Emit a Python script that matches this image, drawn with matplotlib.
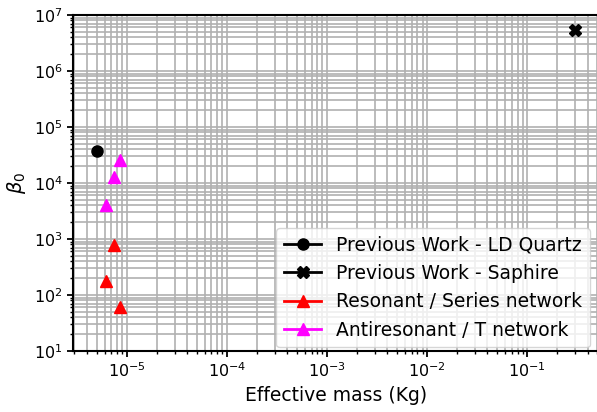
import matplotlib
matplotlib.use("Agg")
import matplotlib.pyplot as plt
from matplotlib.lines import Line2D
from matplotlib.ticker import NullFormatter

# data
quartz_mass = [5.0e-6]
quartz_beta = [3.8e4]
saphire_mass = [0.3]
saphire_beta = [5.3e6]
res_mass = [7.4e-6, 6.2e-6, 8.5e-6]
res_beta = [770, 176, 62]
anti_mass = [8.5e-6, 7.4e-6, 6.2e-6]
anti_beta = [2.6e4, 1.27e4, 4.1e3]

labels = ["Previous Work - LD Quartz", "Previous Work - Saphire",
          "Resonant / Series network", "Antiresonant / T network"]

fig = plt.figure(figsize=(5.97, 4.12), dpi=100)
ax = fig.add_axes([73 / 597, 61 / 412, 526 / 597, 336 / 412])

ax.plot(quartz_mass, quartz_beta, 'o', color='black', ms=8)
ax.plot(saphire_mass, saphire_beta, 'X', color='black', ms=8)
ax.plot(res_mass, res_beta, '^', color='red', ms=8)
ax.plot(anti_mass, anti_beta, '^', color='magenta', ms=8)

ax.set_xscale('log')
ax.set_yscale('log')
ax.set_xlim(2.9e-6, 0.52)
ax.set_ylim(10, 1e7)
ax.grid(True, which='both', color='#b0b0b0', lw=1.2)
ax.set_axisbelow(True)
ax.xaxis.set_minor_formatter(NullFormatter())
ax.yaxis.set_minor_formatter(NullFormatter())

for s in ax.spines.values():
    s.set_linewidth(1.5)
ax.tick_params(which='major', labelsize=11.5, width=1.3, length=4)
ax.tick_params(which='minor', width=1.0, length=2.5)

ax.set_xlabel("Effective mass (Kg)", fontsize=13.5)
ax.set_ylabel(r"$\beta_0$", fontsize=14)

handles = [
    Line2D([], [], color='black', marker='o', lw=2, ms=8),
    Line2D([], [], color='black', marker='X', lw=2, ms=8),
    Line2D([], [], color='red', marker='^', lw=2, ms=8),
    Line2D([], [], color='magenta', marker='^', lw=2, ms=8),
]
ax.legend(handles, labels, loc='lower right', fontsize=13.5,
          bbox_to_anchor=(0.99, 0.0), borderaxespad=0.2)

fig.savefig("out.png", dpi=100)
